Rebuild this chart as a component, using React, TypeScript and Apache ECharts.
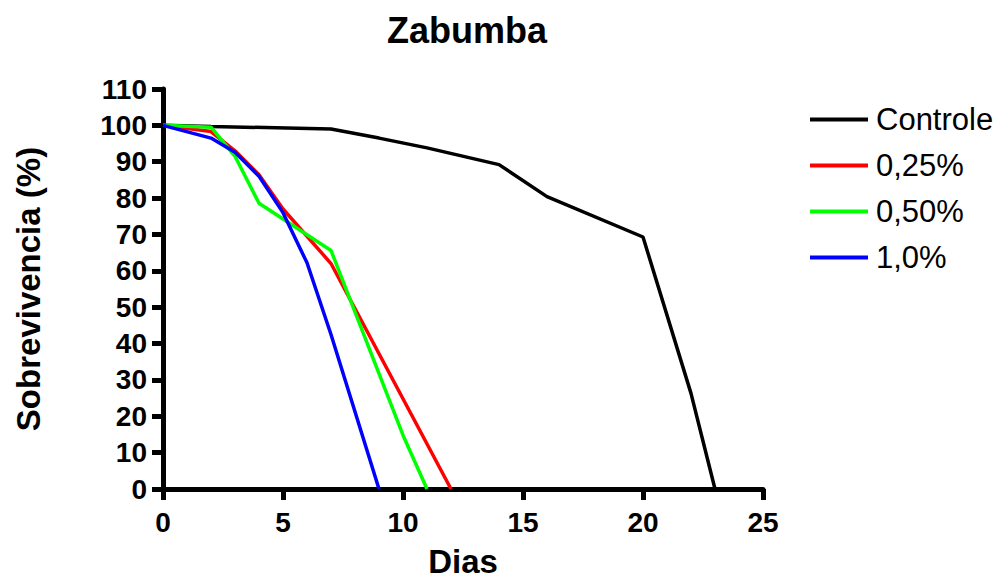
import React, { useEffect, useRef } from "react";
import * as echarts from "echarts";

const seriesNames = ["Controle", "0,25%", "0,50%", "1,0%"];
const seriesColors = ["#000000", "#ff0000", "#00ff00", "#0000ff"];

const controleDays = [0, 2, 7, 9, 11, 14, 16, 20, 22, 23];
const controleValues = [100, 99.7, 99, 96.5, 93.8, 89.2, 80.4, 69.3, 26.3, 0];

const d025Days = [0, 2, 3, 4, 5, 7, 12];
const d025Values = [100, 98.3, 93, 86.4, 77, 62, 0];

const d050Days = [0, 2, 3, 4, 7, 10, 11];
const d050Values = [100, 99.5, 91.5, 78.6, 65.6, 14.8, 0];

const d10Days = [0, 2, 3, 4, 5, 6, 7, 9];
const d10Values = [100, 96.5, 92.6, 86, 76, 62.2, 42.5, 0];

const xTicks = { min: 0, max: 25, interval: 5 };
const yTicks = { min: 0, max: 110, interval: 10 };

const FONT = "Liberation Sans, Arial, Helvetica, sans-serif";

function pairs(xs: number[], ys: number[]) {
  return xs.map((x, i) => [x, ys[i]]);
}

export default function App() {
  const ref = useRef<HTMLDivElement>(null);
  useEffect(() => {
    if (!ref.current) return;
    const chart = echarts.init(ref.current, undefined, { renderer: "svg" });
    const allData = [
      pairs(controleDays, controleValues),
      pairs(d025Days, d025Values),
      pairs(d050Days, d050Values),
      pairs(d10Days, d10Values),
    ];
    chart.setOption({
      animation: false,
      backgroundColor: "#ffffff",
      title: {
        text: "Zabumba",
        left: 462,
        top: 7,
        textAlign: "center",
        textStyle: { fontFamily: FONT, fontWeight: "bold", fontSize: 36, color: "#000" },
      },
      legend: {
        orient: "vertical",
        left: 805,
        top: 99,
        icon: "rect",
        itemWidth: 58,
        itemHeight: 4,
        itemGap: 15,
        data: seriesNames,
        textStyle: { fontFamily: FONT, fontSize: 31, lineHeight: 31, color: "#000", padding: [0, 0, 0, 3] },
      },
      grid: { left: 163, top: 89, width: 600, height: 400, containLabel: false },
      xAxis: {
        type: "value",
        min: xTicks.min,
        max: xTicks.max,
        interval: xTicks.interval,
        name: "Dias",
        nameLocation: "middle",
        nameGap: 56,
        nameTextStyle: { fontFamily: FONT, fontWeight: "bold", fontSize: 33, color: "#000" },
        axisLine: { show: true, lineStyle: { color: "#000", width: 5 } },
        axisTick: { show: true, length: 11, lineStyle: { color: "#000", width: 5 } },
        axisLabel: { margin: 19, fontFamily: FONT, fontWeight: "bold", fontSize: 28, color: "#000" },
        splitLine: { show: false },
      },
      yAxis: {
        type: "value",
        min: yTicks.min,
        max: yTicks.max,
        interval: yTicks.interval,
        name: "Sobrevivencia (%)",
        nameLocation: "middle",
        nameGap: 118,
        nameRotate: 90,
        nameTextStyle: { fontFamily: FONT, fontWeight: "bold", fontSize: 33, color: "#000" },
        axisLine: { show: true, lineStyle: { color: "#000", width: 5 } },
        axisTick: { show: true, length: 11, lineStyle: { color: "#000", width: 5 } },
        axisLabel: { margin: 16, fontFamily: FONT, fontWeight: "bold", fontSize: 28, color: "#000" },
        splitLine: { show: false },
      },
      series: seriesNames.map((name, i) => ({
        name,
        type: "line",
        data: allData[i],
        symbol: "none",
        color: seriesColors[i],
        itemStyle: { color: seriesColors[i] },
        lineStyle: { color: seriesColors[i], width: 3.5 },
        z: 2 + i,
      })),
    });
    return () => chart.dispose();
  }, []);
  return (
    <div
      ref={ref}
      style={{ position: "fixed", left: 0, top: 0, width: 999, height: 583, background: "#fff" }}
    />
  );
}
